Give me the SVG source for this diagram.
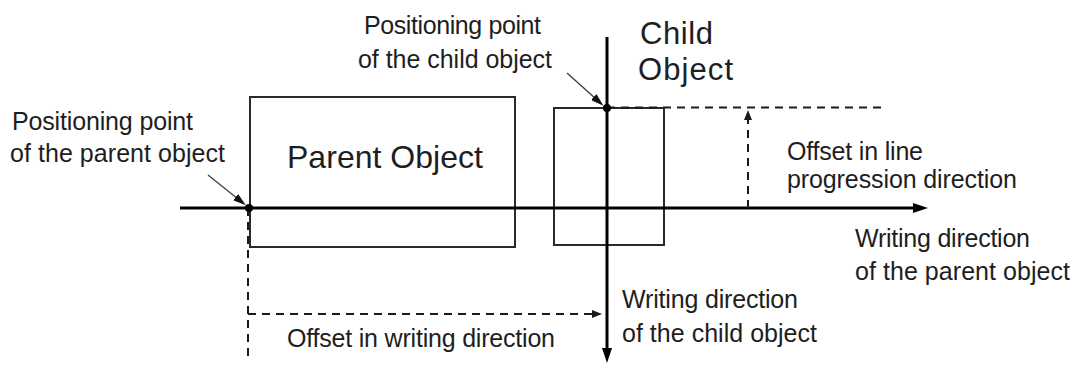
<svg xmlns="http://www.w3.org/2000/svg" width="1072" height="365" viewBox="0 0 1072 365">
  <style>
    .bg { fill: #ffffff; }
    .box { fill: none; stroke: #2b2b2b; stroke-width: 2; }
    .axis { fill: none; stroke: #000000; stroke-width: 3; }
    .dash { fill: none; stroke: #1a1a1a; stroke-width: 2; stroke-dasharray: 8 6; }
    .pointer { fill: none; stroke: #3a3a3a; stroke-width: 1.3; }
    .dot { fill: #000000; }
    .lbl { font-family: "Liberation Sans", Arial, sans-serif; font-size: 25px; fill: #1e1e1e; }
    .big { font-family: "Liberation Sans", Arial, sans-serif; font-size: 32px; fill: #1e1e1e; }
    .child { font-size: 31px; }
  </style>
  <defs>
    <marker id="bigHead" markerUnits="userSpaceOnUse" markerWidth="16" markerHeight="10" refX="5" refY="5" orient="auto">
      <path d="M0,0 L15,5 L0,10 Z" fill="#000000"/>
    </marker>
    <marker id="smallHead" markerUnits="userSpaceOnUse" markerWidth="10" markerHeight="8" refX="3" refY="4" orient="auto">
      <path d="M0,0 L10,4 L0,8 Z" fill="#1a1a1a"/>
    </marker>
    <marker id="ptrHead" markerUnits="userSpaceOnUse" markerWidth="13" markerHeight="8" refX="3" refY="4" orient="auto">
      <path d="M0,0 L13,4 L0,8 Z" fill="#111111"/>
    </marker>
  </defs>
  <rect class="bg" x="0" y="0" width="1072" height="365"/>

  <g id="parent-object">
    <rect class="box" x="250" y="97" width="265" height="150"/>
    <text class="big" x="287" y="168" textLength="196">Parent Object</text>
  </g>

  <g id="child-object">
    <rect class="box" x="554" y="108" width="110" height="137"/>
    <text class="big child" x="640" y="44" textLength="73">Child</text>
    <text class="big child" x="638" y="80" textLength="95">Object</text>
  </g>

  <g id="connectors">
    <!-- parent writing direction axis -->
    <line class="axis" x1="180" y1="208" x2="918" y2="208" marker-end="url(#bigHead)"/>
    <!-- child writing direction axis -->
    <line class="axis" x1="607" y1="37" x2="607" y2="353" marker-end="url(#bigHead)"/>
    <!-- dashed top reference line -->
    <line class="dash" x1="607" y1="107.5" x2="883" y2="107.5"/>
    <!-- offset in line progression direction -->
    <line class="dash" x1="748" y1="208" x2="748" y2="117" marker-end="url(#smallHead)"/>
    <!-- dashed line down from parent positioning point -->
    <line class="dash" x1="248" y1="208" x2="248" y2="358"/>
    <!-- offset in writing direction -->
    <line class="dash" x1="248" y1="314" x2="595" y2="314" marker-end="url(#smallHead)"/>
    <!-- pointer arrows -->
    <line class="pointer" x1="208" y1="175" x2="238" y2="199" marker-end="url(#ptrHead)"/>
    <line class="pointer" x1="567" y1="73" x2="596" y2="99" marker-end="url(#ptrHead)"/>
    <circle class="dot" cx="249" cy="208" r="4"/>
    <circle class="dot" cx="607" cy="108" r="4"/>
  </g>

  <g id="label-parent-point">
    <text class="lbl" x="12" y="129.5" textLength="181">Positioning point</text>
    <text class="lbl" x="10" y="161.5" textLength="215">of the parent object</text>
  </g>

  <g id="label-child-point">
    <text class="lbl" x="364" y="33.5" textLength="177">Positioning point</text>
    <text class="lbl" x="358" y="67.5" textLength="194">of the child object</text>
  </g>

  <g id="label-line-offset">
    <text class="lbl" x="787" y="160" textLength="136">Offset in line</text>
    <text class="lbl" x="787" y="187.5" textLength="230">progression direction</text>
  </g>

  <g id="label-parent-writing">
    <text class="lbl" x="855" y="247" textLength="175">Writing direction</text>
    <text class="lbl" x="855" y="280" textLength="215">of the parent object</text>
  </g>

  <g id="label-child-writing">
    <text class="lbl" x="622" y="308" textLength="176">Writing direction</text>
    <text class="lbl" x="622" y="341.5" textLength="195">of the child object</text>
  </g>

  <g id="label-writing-offset">
    <text class="lbl" x="287" y="346.5" textLength="268">Offset in writing direction</text>
  </g>
</svg>
